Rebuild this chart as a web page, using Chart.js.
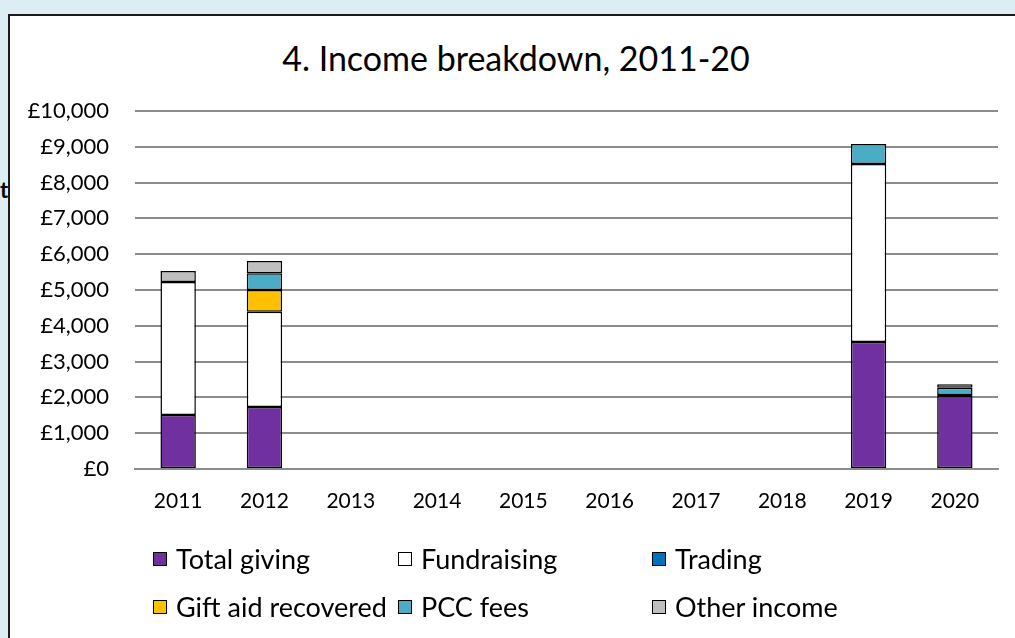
<!DOCTYPE html>
<html>
<head>
<meta charset="utf-8">
<script src="https://cdn.jsdelivr.net/npm/chart.js@4"></script>
<style>
  html, body { margin: 0; padding: 0; width: 1015px; height: 638px; overflow: hidden; background: #dcedf3; font-family: Lato, "Open Sans", sans-serif; }
  #stray { position: absolute; left: 0px; top: 176px; font-size: 22px; font-weight: bold; color: #000; }
  #panel { position: absolute; left: 8px; top: 14px; width: 1020px; height: 640px; background: #fff; border: 2px solid #1a1a1a; box-sizing: border-box; }
  #title { position: absolute; left: 0; top: 37px; width: 1032px; text-align: center; font-size: 34px; line-height: 41px; color: #000; white-space: nowrap; }
  #wrap { position: absolute; left: 0; top: 0; width: 1015px; height: 520px; }
  #legend { position: absolute; left: 0; top: 0; width: 1015px; height: 638px; pointer-events: none; }
  .item { position: absolute; display: flex; align-items: center; font-size: 27px; color: #000; white-space: nowrap; }
  .box { width: 12px; height: 12px; border: 1.5px solid #000; margin-right: 9px; }
</style>
</head>
<body>
<span id="stray">t</span>
<div id="panel"></div>
<div id="title"></div>
<div id="wrap"><canvas id="c" width="1015" height="520"></canvas></div>
<div id="legend"></div>
<script>
const chartTitle = '4. Income breakdown, 2011-20';
const categories = ['2011','2012','2013','2014','2015','2016','2017','2018','2019','2020'];
const totalGiving = [1510, 1730, null, null, null, null, null, null, 3550, 2040];
const fundraising = [3710, 2660, null, null, null, null, null, null, 4970, null];
const trading     = [null, null, null, null, null, null, null, null, null, 30];
const giftAid     = [null, 610, null, null, null, null, null, null, null, null];
const pccFees     = [null, 470, null, null, null, null, null, null, 560, 200];
const otherIncome = [310, 340, null, null, null, null, null, null, null, 100];
const seriesNames = ['Total giving','Fundraising','Trading','Gift aid recovered','PCC fees','Other income'];
const seriesColors = ['#7030a0','#ffffff','#0070c0','#ffc000','#4bacc6','#bfbfbf'];
const yTicks = [0,1000,2000,3000,4000,5000,6000,7000,8000,9000,10000];

document.getElementById('title').textContent = chartTitle;

const seriesData = [totalGiving, fundraising, trading, giftAid, pccFees, otherIncome];
const datasets = seriesData.map((d, i) => ({
  label: seriesNames[i],
  data: d,
  backgroundColor: seriesColors[i],
  borderColor: '#000',
  borderWidth: 1.5,
  borderSkipped: false,
  barPercentage: 0.82,
  categoryPercentage: 0.5
}));

const chart = new Chart(document.getElementById('c'), {
  type: 'bar',
  data: { labels: categories, datasets },
  options: {
    responsive: false,
    animation: false,
    layout: { padding: { left: 0, right: 17, top: 111, bottom: 0 } },
    plugins: {
      legend: { display: false },
      tooltip: { enabled: false },
      title: { display: false }
    },
    scales: {
      x: {
        stacked: true,
        grid: { display: false, drawTicks: false },
        border: { display: true, color: '#8c8c8c', width: 2 },
        ticks: { color: '#000', padding: 20, font: { family: 'Lato', size: 21 } },
        afterFit: s => { s.height = 51; }
      },
      y: {
        stacked: true,
        min: 0, max: 10000,
        afterBuildTicks: s => { s.ticks = yTicks.map(v => ({ value: v })); },
        grid: { color: '#8c8c8c', lineWidth: 2, drawTicks: false },
        border: { display: false },
        ticks: {
          color: '#000', padding: 26,
          font: { family: 'Lato', size: 22 },
          callback: v => '£' + Number(v).toLocaleString('en-GB')
        },
        afterFit: s => { s.width = 135; }
      }
    }
  }
});

// HTML legend in a 3-column grid
const legend = document.getElementById('legend');
const colX = [153, 398, 652];
const rowY = [542, 590];
chart.data.datasets.forEach((ds, i) => {
  const el = document.createElement('div');
  el.className = 'item';
  el.style.left = colX[i % 3] + 'px';
  el.style.top = rowY[Math.floor(i / 3)] + 'px';
  const b = document.createElement('span');
  b.className = 'box';
  b.style.background = ds.backgroundColor;
  el.appendChild(b);
  el.appendChild(document.createTextNode(ds.label));
  legend.appendChild(el);
});
</script>
</body>
</html>
